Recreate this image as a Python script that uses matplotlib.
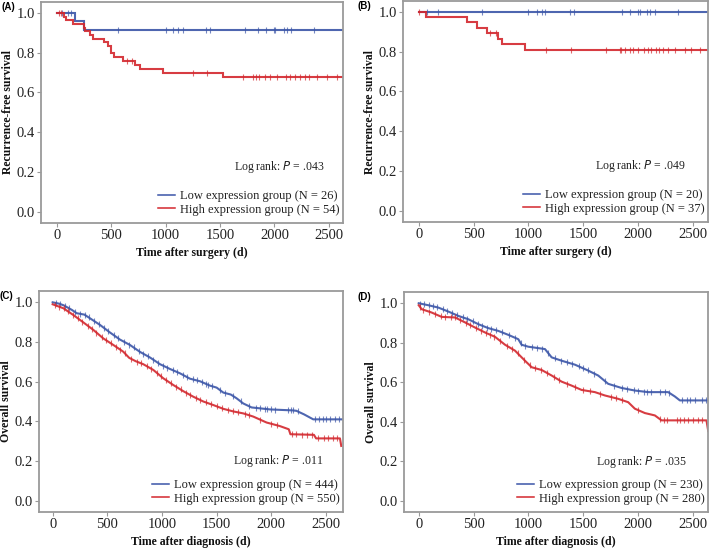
import numpy as np
import matplotlib
matplotlib.use('Agg')
import matplotlib.pyplot as plt
from matplotlib.lines import Line2D

plt.rcParams['font.family'] = 'Liberation Serif'

BLUE = '#3b55a8'
RED = '#d3272d'
FRAME = '#9a9a9a'

# ---- panel A: recurrence-free survival (step curves)
a_low_t = [0, 170, 250]
a_low_s = [1.0, 0.958, 0.913]
a_low_cens = [50, 100, 130, 564, 1000, 1071, 1117, 1156, 1368, 1408, 1730, 1847,
              1920, 1991, 2009, 2092, 2113, 2150, 2359]
a_high_t = [0, 60, 80, 150, 245, 262, 305, 330, 430, 470, 495, 525, 610, 720, 760, 975, 1525]
a_high_s = [1.0, 0.981, 0.963, 0.944, 0.926, 0.907, 0.889, 0.870, 0.852, 0.833, 0.796,
            0.778, 0.759, 0.740, 0.718, 0.699, 0.676]
a_high_cens = [18, 40, 640, 686, 1248, 1383, 1709, 1807, 1831, 1853, 1914, 1960, 2021,
               2104, 2144, 2190, 2236, 2282, 2313, 2390, 2482, 2574]

# ---- panel B
b_low_t = [0]
b_low_s = [1.0]
b_low_cens = [73, 173, 573, 997, 1073, 1124, 1148, 1376, 1415, 1855, 1927, 1997, 2012,
              2079, 2103, 2148, 2361]
b_high_t = [0, 67, 436, 533, 618, 718, 755, 970]
b_high_s = [1.0, 0.973, 0.946, 0.919, 0.892, 0.864, 0.837, 0.808]
b_high_cens = [5, 648, 700, 1158, 1391, 1709, 1830, 1845, 1876, 1921, 1952, 1997, 2052,
               2088, 2118, 2164, 2185, 2224, 2270, 2330, 2421, 2482, 2558]

# ---- panel C: overall survival (dense curves)
c_low_t = [0, 60, 100, 175, 220, 290, 340, 433, 524, 616, 707, 799, 890, 982, 1073, 1165,
           1256, 1348, 1439, 1500, 1561, 1630, 1683, 1744, 1820, 1990, 2200, 2230, 2300,
           2384, 2650]
c_low_s = [1.0, 0.993, 0.985, 0.962, 0.945, 0.938, 0.920, 0.886, 0.848, 0.812, 0.785,
           0.750, 0.722, 0.688, 0.664, 0.642, 0.615, 0.602, 0.580, 0.570, 0.545, 0.535,
           0.516, 0.490, 0.470, 0.460, 0.455, 0.453, 0.435, 0.410, 0.410]
c_low_cens = [30, 70, 110, 150, 200, 250, 300, 330, 380, 420, 470, 510, 560, 600, 650,
              700, 740, 790, 830, 870, 920, 960, 1010, 1050, 1100, 1140, 1190, 1230, 1280,
              1320, 1370, 1400, 1420, 1460, 1530, 1580, 1650, 1720, 1800, 1860, 1900, 1940,
              1960, 2000, 2030, 2150, 2180, 2200, 2240, 2400, 2440, 2470, 2500, 2540, 2580,
              2620]
c_high_t = [0, 98, 189, 280, 372, 463, 555, 646, 700, 760, 829, 921, 1012, 1104, 1195,
            1287, 1378, 1470, 1561, 1652, 1744, 1835, 1957, 2079, 2160, 2175, 2390, 2410,
            2628, 2640]
c_high_s = [0.99, 0.970, 0.936, 0.899, 0.861, 0.818, 0.785, 0.751, 0.720, 0.703, 0.688,
            0.659, 0.617, 0.583, 0.552, 0.524, 0.500, 0.482, 0.463, 0.450, 0.440, 0.424,
            0.394, 0.376, 0.360, 0.335, 0.332, 0.314, 0.314, 0.276]
c_high_cens = [20, 60, 100, 140, 190, 230, 270, 320, 360, 400, 450, 490, 530, 580, 620,
               660, 720, 770, 810, 860, 900, 950, 990, 1040, 1080, 1130, 1170, 1220, 1260,
               1310, 1350, 1400, 1450, 1500, 1550, 1600, 1650, 1700, 1760, 1800, 1900, 2000,
               2050, 2190, 2230, 2280, 2330, 2370, 2430, 2480, 2520, 2560, 2600]

# ---- panel D
d_low_t = [0, 88, 179, 270, 361, 452, 543, 634, 725, 816, 907, 937, 998, 1150, 1211, 1302,
           1423, 1544, 1635, 1726, 1848, 1969, 2090, 2272, 2333, 2379, 2640]
d_low_s = [1.0, 0.990, 0.978, 0.958, 0.936, 0.919, 0.894, 0.874, 0.860, 0.840, 0.818,
           0.790, 0.780, 0.768, 0.726, 0.709, 0.689, 0.659, 0.634, 0.592, 0.571, 0.558,
           0.550, 0.550, 0.528, 0.508, 0.508]
d_low_cens = [15, 50, 90, 130, 170, 220, 260, 300, 350, 400, 440, 490, 540, 580, 620,
              660, 700, 760, 820, 880, 930, 970, 1030, 1080, 1120, 1180, 1240, 1300, 1350,
              1400, 1460, 1500, 1540, 1600, 1700, 1780, 1850, 1900, 1960, 2000, 2050, 2080,
              2120, 2200, 2240, 2280, 2400, 2440, 2470, 2520, 2580, 2620]
d_high_t = [0, 27, 118, 209, 331, 422, 513, 604, 695, 786, 877, 968, 1029, 1120, 1211,
            1302, 1393, 1484, 1605, 1696, 1817, 1908, 1969, 2060, 2151, 2212, 2621, 2637]
d_high_s = [0.99, 0.970, 0.953, 0.931, 0.928, 0.903, 0.877, 0.852, 0.830, 0.790, 0.760,
            0.709, 0.676, 0.662, 0.634, 0.603, 0.583, 0.561, 0.550, 0.533, 0.516, 0.499,
            0.466, 0.444, 0.432, 0.407, 0.407, 0.353]
d_high_cens = [10, 40, 90, 150, 200, 240, 290, 330, 380, 430, 470, 520, 570, 610, 650,
               690, 740, 800, 850, 900, 960, 1010, 1060, 1110, 1170, 1230, 1280, 1350, 1420,
               1500, 1560, 1650, 1750, 1800, 1850, 2000, 2200, 2230, 2260, 2350, 2380, 2420,
               2450, 2500, 2540, 2580]

panels = [
    dict(tag='(A)', ylabel='Recurrence-free survival', xlabel='Time after surgery (d)',
         p='.043', low=(a_low_t, a_low_s, a_low_cens), high=(a_high_t, a_high_s, a_high_cens),
         n=(26, 54), step=True, rect=(41, 2, 343, 223), xlim=(-147, 2630), ylim=(-0.055, 1.054),
         ptxt=(2040, 0.226)),
    dict(tag='(B)', ylabel='Recurrence-free survival', xlabel='Time after surgery (d)',
         p='.049', low=(b_low_t, b_low_s, b_low_cens), high=(b_high_t, b_high_s, b_high_cens),
         n=(20, 37), step=True, rect=(403, 1, 708, 222), xlim=(-143, 2635), ylim=(-0.057, 1.054),
         ptxt=(2020, 0.225)),
    dict(tag='(C)', ylabel='Overall survival', xlabel='Time after diagnosis (d)',
         p='.011', low=(c_low_t, c_low_s, c_low_cens), high=(c_high_t, c_high_s, c_high_cens),
         n=(444, 550), step=False, rect=(39, 291, 343, 512), xlim=(-125, 2656), ylim=(-0.057, 1.057),
         ptxt=(2064, 0.2)),
    dict(tag='(D)', ylabel='Overall survival', xlabel='Time after diagnosis (d)',
         p='.035', low=(d_low_t, d_low_s, d_low_cens), high=(d_high_t, d_high_s, d_high_cens),
         n=(230, 280), step=False, rect=(404, 292, 708, 512), xlim=(-134, 2635), ylim=(-0.057, 1.057),
         ptxt=(2028, 0.196)),
]

W, H = 709, 548
fig = plt.figure(figsize=(W / 100, H / 100), dpi=100)


def draw_curve(ax, t, s, cens, color, step):
    t = np.asarray(t, float)
    s = np.asarray(s, float)
    end = ax.get_xlim()[1]
    if step:
        tt = np.append(t, end)
        ss = np.append(s, s[-1])
        ax.step(tt, ss, where='post', color=color, lw=1.5, alpha=0.9, solid_joinstyle='miter')
        idx = np.searchsorted(t, cens, side='right') - 1
        cy = s[idx]
    else:
        ax.plot(t, s, color=color, lw=1.5, alpha=0.9)
        cy = np.interp(cens, t, s)
    ax.plot(cens, cy, ls='none', marker='|', ms=4, mew=0.8, color=color, alpha=0.7)


for pn in panels:
    x0, y0, x1, y1 = pn['rect']
    ax = fig.add_axes([x0 / W, 1 - y1 / H, (x1 - x0) / W, (y1 - y0) / H])
    ax.set_xlim(*pn['xlim'])
    ax.set_ylim(*pn['ylim'])
    draw_curve(ax, *pn['low'], BLUE, pn['step'])
    draw_curve(ax, *pn['high'], RED, pn['step'])

    for sp in ax.spines.values():
        sp.set_color(FRAME)
        sp.set_linewidth(1.3)
    ax.set_xticks([0, 500, 1000, 1500, 2000, 2500])
    ax.set_yticks([0.0, 0.2, 0.4, 0.6, 0.8, 1.0])
    ax.set_yticklabels(['0.0', '0.2', '0.4', '0.6', '0.8', '1.0'])
    ax.tick_params(direction='out', length=3, width=0.8, color=FRAME, labelsize=10.5,
                   pad=1.5, labelcolor='#222222')
    ax.set_xlabel(pn['xlabel'], fontsize=8.5, fontweight='bold', labelpad=3.5, color='#111111')
    ax.set_ylabel(pn['ylabel'], fontsize=8.5, fontweight='bold', labelpad=2, color='#111111')

    ax.text(pn['ptxt'][0], pn['ptxt'][1], 'Log rank: $\\mathit{P}$ = ' + pn['p'],
            ha='center', va='center', fontsize=8.5, color='#222222')

    handles = [Line2D([], [], color=BLUE, lw=1.1), Line2D([], [], color=RED, lw=1.1)]
    labels = ['Low expression group (N = %d)' % pn['n'][0],
              'High expression group (N = %d)' % pn['n'][1]]
    ax.legend(handles, labels, loc='lower right', bbox_to_anchor=(1.025, -0.015), frameon=False,
              fontsize=9, handlelength=1.4, handletextpad=0.4, labelspacing=0.1,
              borderpad=0.35, labelcolor='#222222')

    fig.text((x0 - 40) / W if x0 < 100 else (x0 - 46) / W, 1 - (y0 + 5) / H, pn['tag'],
             family='Liberation Sans', fontweight='bold', fontsize=7, ha='left', va='center')

fig.savefig('out.png', dpi=100)
